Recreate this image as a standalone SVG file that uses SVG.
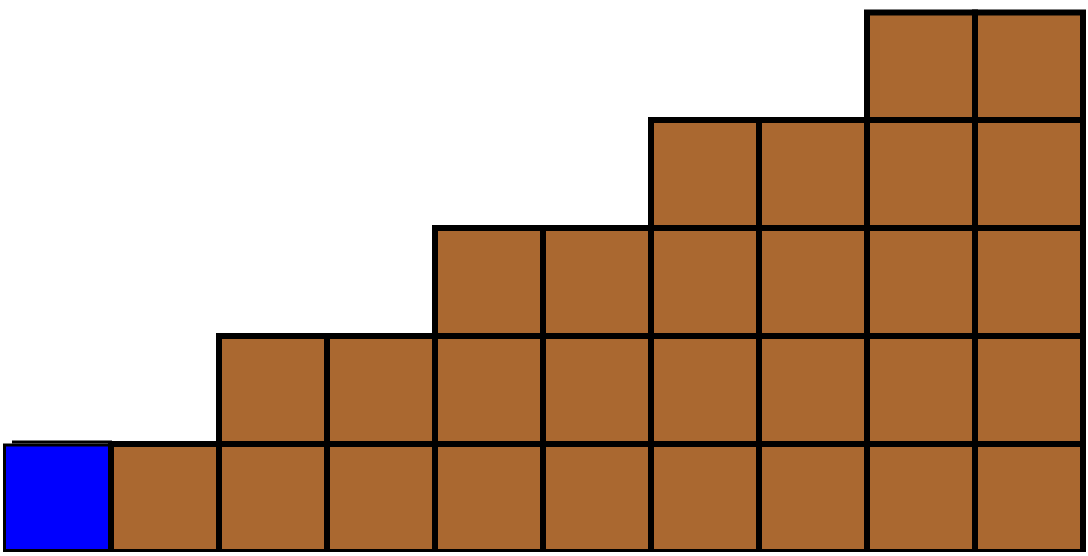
<svg xmlns="http://www.w3.org/2000/svg" width="1088" height="556" viewBox="0 0 1088 556">
<defs>
<style>
.b{fill:#AA6830;stroke:#000;stroke-width:6}
.u{fill:#0000FF;stroke:#000;stroke-width:3}
</style>
<clipPath id="c"><rect x="0" y="0" width="1088" height="552"/></clipPath>
</defs>
<rect width="1088" height="556" fill="#fff"/>
<g id="blue-cell"><rect class="u" x="4.5" y="445" width="106.5" height="105.5"/></g>
<g id="connectors"><line x1="12" y1="442" x2="112" y2="442" stroke="#000" stroke-width="3"/></g>
<g id="cells" clip-path="url(#c)">
<g id="r4"><rect class="b" x="111" y="444" width="108" height="108"/><rect class="b" x="219" y="444" width="108" height="108"/><rect class="b" x="327" y="444" width="108" height="108"/><rect class="b" x="435" y="444" width="108" height="108"/><rect class="b" x="543" y="444" width="108" height="108"/><rect class="b" x="651" y="444" width="108" height="108"/><rect class="b" x="759" y="444" width="108" height="108"/><rect class="b" x="867" y="444" width="108" height="108"/><rect class="b" x="975" y="444" width="108" height="108"/></g>
<g id="r3"><rect class="b" x="219" y="336" width="108" height="108"/><rect class="b" x="327" y="336" width="108" height="108"/><rect class="b" x="435" y="336" width="108" height="108"/><rect class="b" x="543" y="336" width="108" height="108"/><rect class="b" x="651" y="336" width="108" height="108"/><rect class="b" x="759" y="336" width="108" height="108"/><rect class="b" x="867" y="336" width="108" height="108"/><rect class="b" x="975" y="336" width="108" height="108"/></g>
<g id="r2"><rect class="b" x="435" y="228" width="108" height="108"/><rect class="b" x="543" y="228" width="108" height="108"/><rect class="b" x="651" y="228" width="108" height="108"/><rect class="b" x="759" y="228" width="108" height="108"/><rect class="b" x="867" y="228" width="108" height="108"/><rect class="b" x="975" y="228" width="108" height="108"/></g>
<g id="r1"><rect class="b" x="651" y="120" width="108" height="108"/><rect class="b" x="759" y="120" width="108" height="108"/><rect class="b" x="867" y="120" width="108" height="108"/><rect class="b" x="975" y="120" width="108" height="108"/></g>
<g id="r0"><rect class="b" x="867" y="12.5" width="108" height="107.5"/><rect class="b" x="975" y="12.5" width="108" height="107.5"/></g>
</g>
</svg>
